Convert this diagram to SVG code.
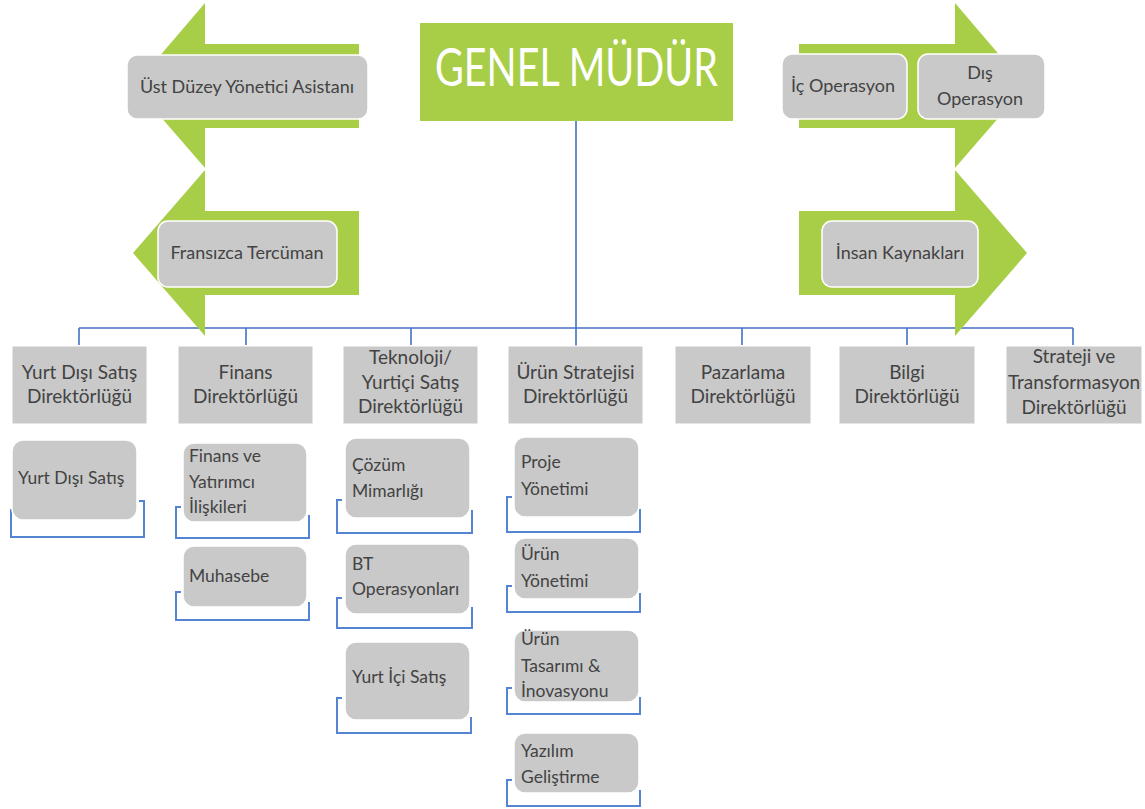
<svg xmlns="http://www.w3.org/2000/svg" width="1145" height="809" viewBox="0 0 1145 809">
<style>
text{font-family:Lato,"Liberation Sans","DejaVu Sans",sans-serif;fill:#434343}
.arrow{fill:#A8CE47}
.gm{fill:#A8CE47}
.gmt{fill:#ffffff;font-size:52px}
.box{fill:#C9C9C9;stroke:#ffffff;stroke-width:1.5}
.dept{fill:#C9C9C9;stroke:#ffffff;stroke-width:1}
.conn{fill:none;stroke:#4472C4;stroke-width:1.6}
.br{fill:none;stroke:#5584D2;stroke-width:2}
.t{font-size:18px;text-anchor:middle}
.d{font-size:19px;text-anchor:middle}
.s{font-size:17.5px}
</style>
<rect width="1145" height="809" fill="#ffffff"/>
<g id="connectors">
<path class="conn" d="M576,121 V346 M79,328 H1073 M79,328 V345 M246,328 V345 M411,328 V345 M742,328 V345 M907,328 V345 M1073,328 V345"/>
</g>
<g id="arrows">
<polygon class="arrow" points="359,44 205,44 205,3 134,86 205,168 205,128 359,128"/>
<polygon class="arrow" points="359,211 205,211 205,170 133,253 205,336 205,295 359,295"/>
<polygon class="arrow" points="799,44 955,44 955,3 1026,86 955,168 955,128 799,128"/>
<polygon class="arrow" points="799,211 955,211 955,170 1027,253 955,336 955,295 799,295"/>
</g>
<g id="genel-mudur">
<rect class="gm" x="420" y="23" width="313" height="98"/>
<text class="gmt" x="576.5" y="86" text-anchor="middle" textLength="283" lengthAdjust="spacingAndGlyphs">GENEL MÜDÜR</text>
</g>
<g id="ust-duzey">
<rect class="box" x="127" y="55" width="241" height="64" rx="10"/>
<text class="t" x="247" y="93">Üst Düzey Yönetici Asistanı</text>
</g>
<g id="fransizca">
<rect class="box" x="158" y="221" width="179" height="66" rx="10"/>
<text class="t" x="247" y="259">Fransızca Tercüman</text>
</g>
<g id="ic-operasyon">
<rect class="box" x="782" y="54" width="125" height="65" rx="10"/>
<text class="t" x="843" y="92">İç Operasyon</text>
</g>
<g id="dis-operasyon">
<rect class="box" x="918" y="54" width="127" height="65" rx="10"/>
<text class="t" x="980" y="79">Dış<tspan x="980" y="105">Operasyon</tspan></text>
</g>
<g id="insan-kaynaklari">
<rect class="box" x="822" y="221" width="156" height="66" rx="10"/>
<text class="t" x="900" y="259">İnsan Kaynakları</text>
</g>
<g id="yurt-disi-dir">
<rect class="dept" x="12" y="346" width="135" height="78"/>
<text class="d" x="79.5" y="379">Yurt Dışı Satış<tspan x="79.5" y="403">Direktörlüğü</tspan></text>
</g>
<g id="finans-dir">
<rect class="dept" x="178" y="346" width="135" height="78"/>
<text class="d" x="245.5" y="379">Finans<tspan x="245.5" y="403">Direktörlüğü</tspan></text>
</g>
<g id="teknoloji-dir">
<rect class="dept" x="343" y="346" width="135" height="78"/>
<text class="d" x="410.5" y="364">Teknoloji/<tspan x="410.5" y="389">Yurtiçi Satış</tspan><tspan x="410.5" y="413">Direktörlüğü</tspan></text>
</g>
<g id="urun-strateji-dir">
<rect class="dept" x="508" y="346" width="135" height="78"/>
<text class="d" x="575.5" y="379">Ürün Stratejisi<tspan x="575.5" y="403">Direktörlüğü</tspan></text>
</g>
<g id="pazarlama-dir">
<rect class="dept" x="675" y="346" width="136" height="78"/>
<text class="d" x="743" y="379">Pazarlama<tspan x="743" y="403">Direktörlüğü</tspan></text>
</g>
<g id="bilgi-dir">
<rect class="dept" x="839" y="346" width="136" height="78"/>
<text class="d" x="907" y="379">Bilgi<tspan x="907" y="403">Direktörlüğü</tspan></text>
</g>
<g id="strateji-dir">
<rect class="dept" x="1006" y="346" width="136" height="78"/>
<text class="d" x="1074" y="363">Strateji ve<tspan x="1074" y="389">Transformasyon</tspan><tspan x="1074" y="414">Direktörlüğü</tspan></text>
</g>
<g id="yurt-disi-satis">
<path class="br" d="M15,510 H11 V537 H144 V501 H139"/>
<rect class="box" x="12" y="440" width="125" height="80" rx="11"/>
<text class="s" x="18" y="484">Yurt Dışı Satış</text>
</g>
<g id="finans-yatirimci">
<path class="br" d="M181,507 H176 V538 H309 V515"/>
<rect class="box" x="183" y="443" width="124" height="79" rx="11"/>
<text class="s" x="189" y="462">Finans ve<tspan x="189" y="488">Yatırımcı</tspan><tspan x="189" y="513">İlişkileri</tspan></text>
</g>
<g id="muhasebe">
<path class="br" d="M181,592 H176 V620 H309 V602"/>
<rect class="box" x="183" y="546" width="124" height="61" rx="11"/>
<text class="s" x="189" y="582">Muhasebe</text>
</g>
<g id="cozum-mimarligi">
<path class="br" d="M342,500 H337 V533 H472 V510"/>
<rect class="box" x="345" y="438" width="125" height="80" rx="11"/>
<text class="s" x="352" y="471">Çözüm<tspan x="352" y="497">Mimarlığı</tspan></text>
</g>
<g id="bt-operasyonlari">
<path class="br" d="M342,598 H337 V628 H472 V607"/>
<rect class="box" x="345" y="544" width="125" height="70" rx="11"/>
<text class="s" x="352" y="570">BT<tspan x="352" y="595">Operasyonları</tspan></text>
</g>
<g id="yurt-ici-satis">
<path class="br" d="M342,698 H337 V733 H471 V717"/>
<rect class="box" x="345" y="642" width="125" height="78" rx="11"/>
<text class="s" x="352" y="683">Yurt İçi Satış</text>
</g>
<g id="proje-yonetimi">
<path class="br" d="M512,497 H507 V532 H640 V509"/>
<rect class="box" x="514" y="437" width="125" height="80" rx="11"/>
<text class="s" x="521" y="468">Proje<tspan x="521" y="495">Yönetimi</tspan></text>
</g>
<g id="urun-yonetimi">
<path class="br" d="M512,586 H507 V612 H640 V593"/>
<rect class="box" x="514" y="538" width="125" height="61" rx="11"/>
<text class="s" x="521" y="560">Ürün<tspan x="521" y="587">Yönetimi</tspan></text>
</g>
<g id="urun-tasarimi">
<path class="br" d="M512,688 H507 V714 H640 V697"/>
<rect class="box" x="514" y="630" width="125" height="72" rx="11"/>
<text class="s" x="521" y="645">Ürün<tspan x="521" y="672">Tasarımı &amp;</tspan><tspan x="521" y="697">İnovasyonu</tspan></text>
</g>
<g id="yazilim-gelistirme">
<path class="br" d="M512,780 H507 V806 H640 V790"/>
<rect class="box" x="514" y="733" width="125" height="60" rx="11"/>
<text class="s" x="521" y="757">Yazılım<tspan x="521" y="783">Geliştirme</tspan></text>
</g>
</svg>
